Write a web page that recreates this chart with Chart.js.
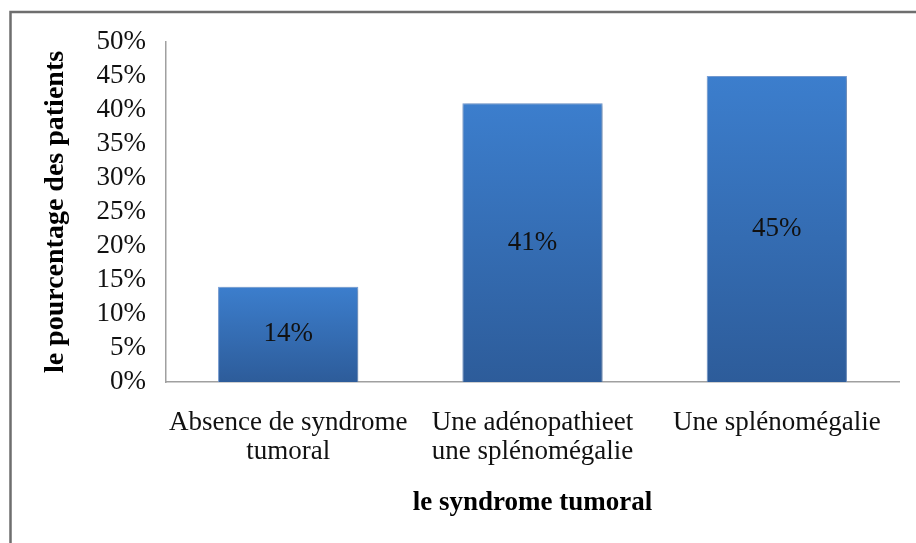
<!DOCTYPE html>
<html>
<head>
<meta charset="utf-8">
<script src="https://cdn.jsdelivr.net/npm/chart.js@4/dist/chart.umd.min.js"></script>
<style>
  body { margin: 0; background: #fff; overflow: hidden; }
  canvas { display: block; }
</style>
</head>
<body>
<canvas id="chart" width="916" height="543"></canvas>
<script>
const categories = [
    ['Absence de syndrome', 'tumoral'],
    ['Une adénopathieet', 'une splénomégalie'],
    ['Une splénomégalie']
];
const percentages = [14, 41, 45];
const yTicks = [0, 5, 10, 15, 20, 25, 30, 35, 40, 45, 50];
const yTitle = 'le pourcentage des patients';
const xTitle = 'le syndrome tumoral';

const serif = '"Liberation Serif", "Times New Roman", serif';

// grey frame around the chart (cut off on the right and bottom)
const framePlugin = {
    id: 'frame',
    beforeDraw(chart) {
        const c = chart.ctx;
        c.save();
        c.fillStyle = '#fff';
        c.fillRect(0, 0, chart.width, chart.height);
        c.strokeStyle = '#6e6e6e';
        c.lineWidth = 2.5;
        c.beginPath();
        c.moveTo(10.5, chart.height);
        c.lineTo(10.5, 12);
        c.lineTo(chart.width, 12);
        c.stroke();
        c.restore();
    }
};

// soft shadow under the bars
const shadowPlugin = {
    id: 'barShadow',
    beforeDatasetsDraw(chart) {
        const c = chart.ctx;
        c.save();
        c.shadowColor = 'rgba(0,0,0,0.3)';
        c.shadowBlur = 4;
        c.shadowOffsetX = 1;
        c.shadowOffsetY = 1;
    },
    afterDatasetsDraw(chart) {
        chart.ctx.restore();
    }
};

// value labels in the middle of each bar
const valueLabels = {
    id: 'valueLabels',
    afterDatasetsDraw(chart) {
        const c = chart.ctx;
        const meta = chart.getDatasetMeta(0);
        c.save();
        c.font = '27px ' + serif;
        c.fillStyle = '#111';
        c.textAlign = 'center';
        c.textBaseline = 'middle';
        meta.data.forEach((bar, i) => {
            const p = bar.getCenterPoint();
            c.fillText(percentages[i] + '%', p.x, p.y);
        });
        c.restore();
    }
};

function barGradient(context) {
    const chart = context.chart;
    const area = chart.chartArea;
    if (!area || !chart.scales.y) return '#3671b8';
    const top = chart.scales.y.getPixelForValue(context.raw);
    const g = chart.ctx.createLinearGradient(0, top, 0, area.bottom);
    g.addColorStop(0, '#3c7ecd');
    g.addColorStop(1, '#2d5c9a');
    return g;
}

const ctx = document.getElementById('chart');

let myChart = new Chart(ctx, {
    type: 'bar',
    data: {
        labels: categories,
        datasets: [{
            data: percentages,
            backgroundColor: barGradient,
            borderColor: 'rgba(110,155,220,0.9)',
            borderWidth: 1,
            barPercentage: 0.574,
            categoryPercentage: 1
        }]
    },
    options: {
        responsive: false,
        animation: false,
        layout: { padding: { left: 0, right: 17, top: 42, bottom: 0 } },
        plugins: {
            legend: { display: false },
            tooltip: { enabled: false }
        },
        scales: {
            x: {
                offset: true,
                grid: { display: false, drawTicks: false },
                border: { color: '#a0a0a0', width: 1.5 },
                ticks: {
                    color: '#111',
                    padding: 26,
                    maxRotation: 0,
                    autoSkip: false,
                    font: { family: serif, size: 27, lineHeight: 1.08 }
                },
                title: {
                    display: true,
                    text: xTitle,
                    color: '#000',
                    padding: { top: 0, bottom: 24 },
                    font: { family: serif, size: 27, weight: 'bold', lineHeight: 1.2 }
                },
                afterFit(scale) { scale.height = 161; }
            },
            y: {
                min: 0,
                max: 50,
                afterBuildTicks(scale) {
                    scale.ticks = yTicks.map(v => ({ value: v }));
                },
                grid: { display: false, drawTicks: false },
                border: { color: '#a0a0a0', width: 1.5 },
                ticks: {
                    color: '#111',
                    padding: 20,
                    autoSkip: false,
                    font: { family: serif, size: 27 },
                    callback: v => v + '%'
                },
                title: {
                    display: true,
                    text: yTitle,
                    color: '#000',
                    padding: { top: 39, bottom: 0 },
                    font: { family: serif, size: 28, weight: 'bold', lineHeight: 1.2 }
                },
                afterFit(scale) { scale.width = 166; }
            }
        }
    },
    plugins: [framePlugin, shadowPlugin, valueLabels]
});
</script>
</body>
</html>
